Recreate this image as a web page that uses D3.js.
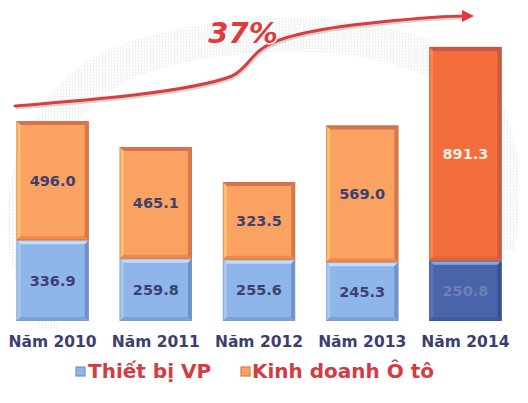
<!DOCTYPE html>
<html>
<head>
<meta charset="utf-8">
<script src="https://cdn.jsdelivr.net/npm/d3@7"></script>
<style>
  html, body { margin: 0; padding: 0; background: #ffffff; }
  svg { display: block; }
</style>
</head>
<body>
<svg id="chart" width="528" height="403"></svg>
<script>
// Revenue by segment, stacked per year
const years = ["Năm 2010", "Năm 2011", "Năm 2012", "Năm 2013", "Năm 2014"];
const thietBiVP = [336.9, 259.8, 255.6, 245.3, 250.8];
const kinhDoanhOto = [496.0, 465.1, 323.5, 569.0, 891.3];
const seriesNames = ["Thiết bị VP", "Kinh doanh Ô tô"];
const growthLabel = "37%";

const svg = d3.select("#chart");

const defs = svg.append("defs");

// faint stippled swoosh in the background
const pat = defs.append("pattern").attr("id", "stipple")
  .attr("width", 3).attr("height", 3).attr("patternUnits", "userSpaceOnUse");
pat.append("rect").attr("width", 3).attr("height", 3).attr("fill", "#ffffff");
pat.append("rect").attr("width", 1).attr("height", 3).attr("fill", "#dcdcdc");
pat.append("rect").attr("width", 3).attr("height", 1).attr("fill", "#e6e6e6");

svg.append("path")
  .attr("d", "M 40 330 C -20 250, 0 90, 120 45 C 230 5, 400 10, 470 60 C 520 100, 525 180, 515 250 L 495 250 C 500 170, 480 110, 440 85 C 380 45, 240 40, 140 75 C 50 110, 20 220, 60 330 Z")
  .attr("fill", "url(#stipple)")
  .attr("opacity", 0.4);

const x = d3.scaleBand().domain(years).range([1, 517]).paddingInner(0.3).paddingOuter(0.15);
const y = d3.scaleLinear().domain([0, 1150]).range([321, 45]);

const rows = years.map((yr, i) => ({
  year: yr, vp: thietBiVP[i], oto: kinhDoanhOto[i], last: i === years.length - 1
}));

// bevelled rectangle: flat fill plus four edge trapezoids
function bevel(g, x0, y0, w, h, c) {
  const b = 4;
  const x1 = x0 + w, y1 = y0 + h;
  g.append("rect").attr("x", x0).attr("y", y0).attr("width", w).attr("height", h).attr("fill", c.fill);
  const faces = [
    { pts: [[x0, y0], [x1, y0], [x1 - b, y0 + b], [x0 + b, y0 + b]], col: c.top },
    { pts: [[x0, y0], [x0 + b, y0 + b], [x0 + b, y1 - b], [x0, y1]], col: c.left },
    { pts: [[x1, y0], [x1, y1], [x1 - b, y1 - b], [x1 - b, y0 + b]], col: c.right },
    { pts: [[x0, y1], [x0 + b, y1 - b], [x1 - b, y1 - b], [x1, y1]], col: c.bottom }
  ];
  faces.forEach(f => g.append("polygon").attr("points", f.pts.map(p => p.join(",")).join(" ")).attr("fill", f.col));
  g.append("rect").attr("x", x0 + 0.5).attr("y", y0 + 0.5).attr("width", w - 1).attr("height", h - 1)
    .attr("fill", "none").attr("stroke", c.edge).attr("stroke-width", 1).attr("opacity", 0.6);
}

const orangeLight = { fill: "#f9a262", top: "#d9704f", left: "#fbc070", right: "#d67a4c", bottom: "#ee8a4e", edge: "#c8764c" };
const blueLight = { fill: "#8fb6ea", top: "#c4dcf8", left: "#a9c8f0", right: "#6f93c8", bottom: "#7ea2d6", edge: "#7d9bc8" };
const orangeDeep = { fill: "#f46d3c", top: "#c9584a", left: "#f78650", right: "#c85a3e", bottom: "#e4623a", edge: "#b85a44" };
const blueDeep = { fill: "#4a64aa", top: "#8aa6e0", left: "#5873b8", right: "#37508e", bottom: "#415a9c", edge: "#3b5290" };

const bars = svg.append("g");
rows.forEach(d => {
  const g = bars.append("g");
  const bx = x(d.year), bw = x.bandwidth();
  const yVpTop = y(d.vp), yTop = y(d.vp + d.oto);
  bevel(g, bx, yVpTop, bw, y(0) - yVpTop, d.last ? blueDeep : blueLight);
  bevel(g, bx, yTop, bw, yVpTop - yTop, d.last ? orangeDeep : orangeLight);

  g.append("text")
    .attr("x", bx + bw / 2).attr("y", (yTop + yVpTop) / 2)
    .attr("text-anchor", "middle").attr("dominant-baseline", "central")
    .attr("font-family", "DejaVu Sans").attr("font-weight", "bold").attr("font-size", 14.5)
    .attr("fill", d.last ? "#fbeee6" : "#3d4070")
    .text(d.oto.toFixed(1));
  g.append("text")
    .attr("x", bx + bw / 2).attr("y", (yVpTop + y(0)) / 2)
    .attr("text-anchor", "middle").attr("dominant-baseline", "central")
    .attr("font-family", "DejaVu Sans").attr("font-weight", "bold").attr("font-size", 14.5)
    .attr("fill", d.last ? "#6f80b8" : "#3d4070")
    .text(d.vp.toFixed(1));
});

// category axis
const xAxis = svg.append("g").attr("transform", "translate(0,321)")
  .call(d3.axisBottom(x).tickSize(0).tickPadding(15));
xAxis.select(".domain").remove();
xAxis.selectAll("text")
  .attr("font-family", "DejaVu Sans").attr("font-weight", "bold").attr("font-size", 15.5)
  .attr("fill", "#3c3f6c");

// growth trend arrow
const trend = "M 15 106 C 90 100, 190 92, 232 76 C 248 68, 250 55, 266 46 C 286 34, 330 27, 380 22 C 420 18, 450 16, 466 16";
svg.append("path").attr("d", trend).attr("fill", "none")
  .attr("stroke", "#9fb2a0").attr("stroke-width", 3).attr("opacity", 0.5)
  .attr("transform", "translate(1,2)");
svg.append("path").attr("d", trend).attr("fill", "none")
  .attr("stroke", "#dc3c40").attr("stroke-width", 3).attr("stroke-linecap", "round");
svg.append("polygon").attr("points", "462,10 474,16 462,22").attr("fill", "#dc3c40");

svg.append("text").attr("x", 243).attr("y", 43)
  .attr("text-anchor", "middle")
  .attr("font-family", "DejaVu Sans").attr("font-weight", "bold").attr("font-style", "italic")
  .attr("font-size", 29).attr("fill", "#e0393e")
  .attr("stroke", "#ffffff").attr("stroke-width", 3).attr("paint-order", "stroke")
  .text(growthLabel);

// legend
const legend = svg.append("g");
const legendItems = [
  { name: seriesNames[0], mx: 76, tx: 88, c: blueLight },
  { name: seriesNames[1], mx: 241, tx: 252, c: orangeLight }
];
legendItems.forEach(it => {
  legend.append("rect").attr("x", it.mx).attr("y", 367).attr("width", 9).attr("height", 9)
    .attr("fill", it.c.fill).attr("stroke", it.c.right).attr("stroke-width", 1.2);
  legend.append("text").attr("x", it.tx).attr("y", 378)
    .attr("font-family", "DejaVu Sans").attr("font-weight", "bold").attr("font-size", 20)
    .attr("fill", "#d63a42")
    .text(it.name);
});
</script>
</body>
</html>
